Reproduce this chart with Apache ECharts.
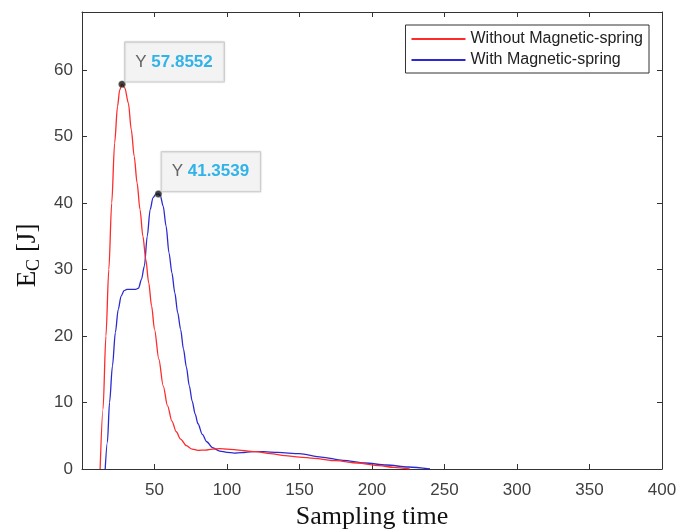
<!DOCTYPE html>
<html><head><meta charset="utf-8">
<script src="https://cdn.jsdelivr.net/npm/echarts@6/dist/echarts.min.js"></script>
<style>html,body{margin:0;padding:0;background:#fff}#c{width:676px;height:529px}</style>
</head><body><div id="c"></div>
<script>
const xTicks = [0, 50, 100, 150, 200, 250, 300, 350, 400];
const yTicks = [0, 10, 20, 30, 40, 50, 60];
const seriesNames = ['Without Magnetic-spring', 'With Magnetic-spring'];
const redX = [12.5,14.5,16.5,18.5,20.5,22.5,24.5,26,27.6,29.5,32,34,36,38,40,42,44,46,48,50,53,56,59,62,65,68,72,76,80,85,90,95,100,110,120,130,140,150,160,175,190,205,215,226];
const redY = [0,9,20,30,40,49,54.5,57,57.8552,57.3,55,51,47,43,39,35,31.5,28,24.5,21,16.5,12.5,9.5,7.2,5.6,4.5,3.5,3.0,2.8,2.85,3.0,3.05,3.0,2.8,2.6,2.3,2.0,1.8,1.6,1.25,0.9,0.5,0.25,0];
const blueX = [16,17.5,19,21,23,25,27,29,31,34,37,39,41,43,45,47,49,51,52.7,54,56,58,60,62,64,66,68,70,72,74,76,78,80,83,86,90,95,100,105,110,118,125,135,150,165,180,195,210,225,240];
const blueY = [0,4,10,15.5,20.5,24,26,26.8,27,27,27,27.2,28.5,30.5,35,39,40.8,41.3,41.3539,41.1,39.5,36.5,32.5,29.5,26.5,23.5,21,18,15.3,12.5,10.2,8.3,6.8,5.2,4.1,3.2,2.7,2.5,2.4,2.45,2.6,2.6,2.5,2.3,1.8,1.3,0.9,0.6,0.3,0];
const tipX = [27.6, 52.7];
const tipY = [57.8552, 41.3539];

const zip = (a, b) => a.map((v, i) => [v, b[i]]);
const chart = echarts.init(document.getElementById('c'));
const axisCommon = {
  type: 'value', min: 0,
  axisLine: { show: true, onZero: false, lineStyle: { color: '#333', width: 1 } },
  axisTick: { show: true, inside: true, length: 5, lineStyle: { color: '#333' } },
  splitLine: { show: false }
};
const tickFont = { fontFamily: 'Liberation Sans', fontSize: 17, color: '#404040' };
chart.setOption({
  animation: false,
  backgroundColor: '#fff',
  grid: { left: 82, right: 14, top: 12, bottom: 60, containLabel: false, outerBoundsMode: 'none' },
  legend: {
    data: seriesNames, orient: 'vertical', right: 27, top: 25,
    backgroundColor: '#fff', borderColor: '#333', borderWidth: 1,
    padding: [6, 6, 5, 5], itemWidth: 54, itemHeight: 14, itemGap: 5, itemTextGap: 4,
    itemStyle: { opacity: 0 },
    textStyle: { fontFamily: 'Liberation Sans', fontSize: 16, color: '#222' }
  },
  xAxis: [
    Object.assign({}, axisCommon, { max: 400, interval: 50, position: 'bottom',
      name: 'Sampling time', nameLocation: 'middle', nameGap: 31,
      nameTextStyle: { fontFamily: 'Liberation Serif', fontSize: 26, color: '#111' },
      axisLabel: Object.assign({ margin: 13, formatter: v => (v === xTicks[0] ? '' : String(v)) }, tickFont) }),
    Object.assign({}, axisCommon, { max: 400, interval: 50, position: 'top', axisLabel: { show: false } })
  ],
  yAxis: [
    Object.assign({}, axisCommon, { max: 68.7, interval: 10, position: 'left',
      name: '{e|E}{c|C} [J]', nameLocation: 'middle', nameGap: 39, nameRotate: 90,
      nameTextStyle: { fontFamily: 'Liberation Serif', fontSize: 27, color: '#111', padding: [0, 30, 0, 0],
        rich: { e: { fontFamily: 'Liberation Serif', fontSize: 27, color: '#111' },
                c: { fontFamily: 'Liberation Serif', fontSize: 18, color: '#111', padding: [12, 0, 0, 0] } } },
      axisLabel: Object.assign({ margin: 9, formatter: v => (yTicks.indexOf(v) >= 0 ? String(v) : '') }, tickFont) }),
    Object.assign({}, axisCommon, { max: 68.7, interval: 10, position: 'right', axisLabel: { show: false } })
  ],
  series: [
    { name: seriesNames[0], type: 'line', data: zip(redX, redY), symbol: 'none', smooth: 0.3, smoothMonotone: 'x',
      color: '#ff2a2a', lineStyle: { width: 1.3, color: '#ff2a2a' }, z: 3 },
    { name: seriesNames[1], type: 'line', data: zip(blueX, blueY), symbol: 'none', smooth: 0.3, smoothMonotone: 'x',
      color: '#2a2ad0', lineStyle: { width: 1.3, color: '#2a2ad0' }, z: 2 },
    { name: 'tips', type: 'scatter', data: zip(tipX, tipY), symbol: 'circle', symbolSize: 7,
      itemStyle: { color: '#111', borderColor: '#bba', borderWidth: 0.5 }, z: 5,
      label: { show: true, position: [7, -38],
        formatter: p => '{a|Y }{b|' + p.value[1].toFixed(4) + '}',
        backgroundColor: '#f7f7f7', borderColor: '#c8c8c8', borderWidth: 1, padding: [11, 11, 11, 10],
        shadowColor: 'rgba(0,0,0,0.15)', shadowBlur: 2,
        rich: { a: { fontFamily: 'Liberation Sans', fontSize: 17, color: '#404040' },
                b: { fontFamily: 'Liberation Sans', fontSize: 17, fontWeight: 'bold', color: '#00a3e6' } } } }
  ]
});
</script></body></html>
